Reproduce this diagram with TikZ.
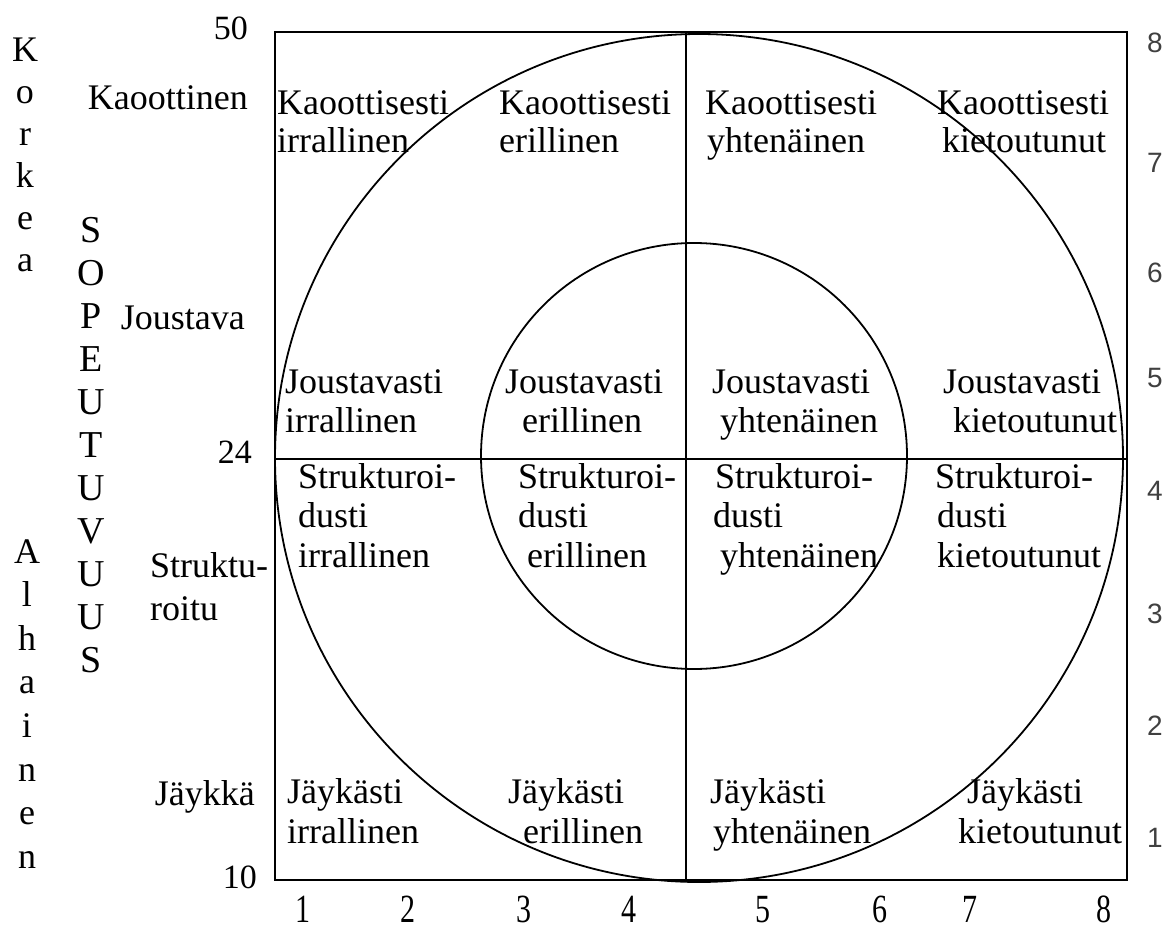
\documentclass[tikz,border=0pt]{standalone}
\usepackage{fontspec}
\setmainfont{Liberation Serif}
\newfontfamily\numfont{Liberation Sans}
\usepackage{graphicx}
\begin{document}
\begin{tikzpicture}[x=1pt,y=-1pt,
  frame/.style={line width=1.5pt},
  ring/.style={line width=1.8pt},
  txt/.style={font=\fontsize{36}{38}\selectfont, inner sep=0pt, anchor=base west},
  rtxt/.style={font=\fontsize{36}{38}\selectfont, inner sep=0pt, anchor=base east},
  letter/.style={font=\fontsize{36}{38}\selectfont, inner sep=0pt, anchor=base},
  bigletter/.style={font=\fontsize{38}{40}\selectfont, inner sep=0pt, anchor=base},
  scalenum/.style={font=\fontsize{34}{36}\selectfont, inner sep=0pt, anchor=base east},
  botnum/.style={font=\fontsize{40}{42}\selectfont, inner sep=0pt, anchor=base},
  rightnum/.style={font=\numfont\fontsize{28}{30}\selectfont, text=black!75, inner sep=0pt, anchor=base}]
\useasboundingbox (0,0) rectangle (1167,933);

% frame and axes
\coordinate (tl) at (275,32);
\coordinate (br) at (1127,880);
\coordinate (vt) at (686,32);
\coordinate (vb) at (686,880);
\coordinate (hl) at (275,459);
\coordinate (hr) at (1127,459);
\draw[frame] (tl) rectangle (br);
\draw[frame] (vt) -- (vb);
\draw[frame] (hl) -- (hr);

% circles
\coordinate (cbig) at (699,458);
\coordinate (csmall) at (694,456);
\draw[ring] (cbig) circle[radius=424];
\draw[ring] (csmall) circle[radius=213];

% side letters
\foreach \l [count=\i] in {K,o,r,k,e,a}
  \node[letter] (ko\i) at (25,{62+42*(\i-1)}) {\l};
\foreach \l [count=\i] in {S,O,P,E,U,T,U,V,U,U,S}
  \node[bigletter] (so\i) at (91,{243+42.9*(\i-1)}) {\l};
\foreach \l [count=\i] in {A,l,h,a,i,n,e,n}
  \node[letter] (al\i) at (27,{563+43.6*(\i-1)}) {\l};

% row labels
\node[rtxt] (rk) at (248,110) {Kaoottinen};
\node[rtxt] (rj) at (245,330) {Joustava};
\node[txt] (rs1) at (150,577) {Struktu-};
\node[txt] (rs2) at (150,620) {roitu};
\node[rtxt] (rjy) at (255,805) {Jäykkä};

% left scale
\node[scalenum] (s50) at (248,40) {50};
\node[scalenum] (s24) at (252,463) {24};
\node[scalenum] (s10) at (257,888) {10};

% bottom scale
\foreach \n/\x in {1/303,2/408,3/524,4/629,5/763,6/880,7/970,8/1104}
  \node[botnum] (b\n) at (\x,922) {\scalebox{0.75}[1]{\n}};

% right scale
\foreach \n/\y in {8/53,7/173,6/283,5/387,4/500,3/623,2/735,1/847}
  \node[rightnum] (r\n) at (1155,\y) {\n};

% row 1: Kaoottisesti
\node[txt] (a1) at (277,115) {Kaoottisesti};
\node[txt] (a1b) at (277,153) {irrallinen};
\node[txt] (a2) at (499,115) {Kaoottisesti};
\node[txt] (a2b) at (499,153) {erillinen};
\node[txt] (a3) at (705,115) {Kaoottisesti};
\node[txt] (a3b) at (707,153) {yhtenäinen};
\node[txt] (a4) at (937,115) {Kaoottisesti};
\node[txt] (a4b) at (942,153) {kietoutunut};

% row 2: Joustavasti
\node[txt] (j1) at (285,393) {Joustavasti};
\node[txt] (j1b) at (285,432) {irrallinen};
\node[txt] (j2) at (505,393) {Joustavasti};
\node[txt] (j2b) at (522,432) {erillinen};
\node[txt] (j3) at (712,393) {Joustavasti};
\node[txt] (j3b) at (720,432) {yhtenäinen};
\node[txt] (j4) at (943,393) {Joustavasti};
\node[txt] (j4b) at (953,432) {kietoutunut};

% row 3: Strukturoidusti
\node[txt] (s1) at (298,488) {Strukturoi-};
\node[txt] (s1b) at (298,527) {dusti};
\node[txt] (s1c) at (298,567) {irrallinen};
\node[txt] (s2) at (518,488) {Strukturoi-};
\node[txt] (s2b) at (518,527) {dusti};
\node[txt] (s2c) at (527,567) {erillinen};
\node[txt] (s3) at (715,488) {Strukturoi-};
\node[txt] (s3b) at (713,527) {dusti};
\node[txt] (s3c) at (720,567) {yhtenäinen};
\node[txt] (s4) at (935,488) {Strukturoi-};
\node[txt] (s4b) at (937,527) {dusti};
\node[txt] (s4c) at (937,567) {kietoutunut};

% row 4: Jäykästi
\node[txt] (y1) at (287,803) {Jäykästi};
\node[txt] (y1b) at (287,843) {irrallinen};
\node[txt] (y2) at (508,803) {Jäykästi};
\node[txt] (y2b) at (523,843) {erillinen};
\node[txt] (y3) at (710,803) {Jäykästi};
\node[txt] (y3b) at (713,843) {yhtenäinen};
\node[txt] (y4) at (967,803) {Jäykästi};
\node[txt] (y4b) at (958,843) {kietoutunut};
\end{tikzpicture}
\end{document}
